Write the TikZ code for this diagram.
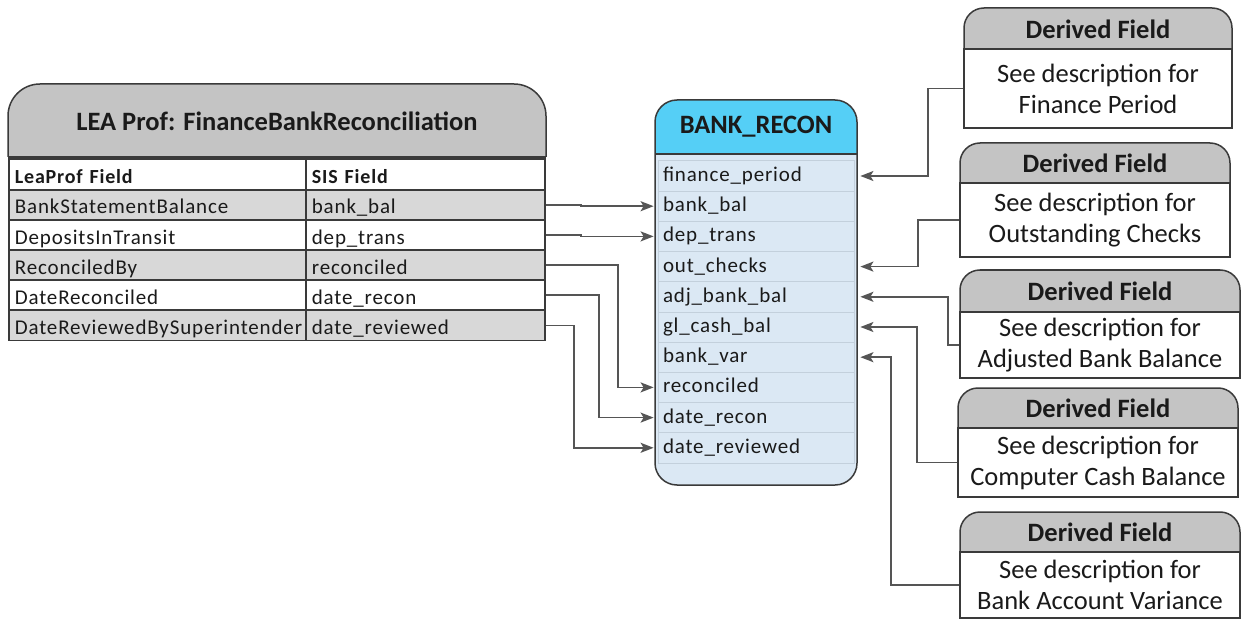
\documentclass[tikz,border=0pt]{standalone}
\usepackage{fontspec}
\setmainfont{Carlito}
\newfontfamily\rowfont[LetterSpace=4]{Carlito}
\usetikzlibrary{arrows.meta,calc}
\definecolor{hdrgray}{HTML}{C4C4C4}
\definecolor{rowgray}{HTML}{D8D8D8}
\definecolor{cyanhdr}{HTML}{55CFF6}
\definecolor{bodyblue}{HTML}{DBE8F4}
\definecolor{rowline}{HTML}{C3D0DC}
\definecolor{edge}{HTML}{3A3A3A}
\definecolor{wire}{HTML}{555555}
\definecolor{ink}{HTML}{1A1A1A}
\tikzset{
  rowtxt/.style={font=\rowfont\fontsize{21}{25}\selectfont, text=ink, text height=15, text depth=4},
  lcell/.style={draw=edge, line width=1.8pt, anchor=west, minimum height=30, text width=285, inner xsep=6, inner ysep=0, align=left, rowtxt, text height=18, text depth=0},
  scell/.style={lcell, text width=227},
  field/.style={draw=rowline, line width=0.8pt, fill=bodyblue, minimum height=30.2, text width=186, inner xsep=5, inner ysep=0, align=left, rowtxt},
  dhead/.style={font=\bfseries\fontsize{26.5}{30}\selectfont, text=ink},
  dbody/.style={draw=edge, line width=1.5pt, fill=white, align=center, font=\fontsize{26.5}{31}\selectfont, text=ink, inner sep=0},
  conn/.style={draw=wire, line width=1.7pt, -{Stealth[length=13pt,width=10pt,inset=3pt]}},
}
\begin{document}
\begin{tikzpicture}[x=1pt,y=-1pt]
\useasboundingbox (0,0) rectangle (1244,620);
\fill[white] (0,0) rectangle (1244,620);

% ---------- left table ----------
\filldraw[fill=hdrgray, draw=edge, line width=1.5pt, rounded corners=32] (8,157) -- (8,84) -- (546,84) -- (546,157);
\draw[edge, line width=1.5pt] (8,157) -- (546,157);
\node[font=\bfseries\fontsize{26.5}{30}\selectfont, text=ink] (title) at (277,121) {LEA Prof: FinanceBankReconciliation};

\node[lcell, fill=white, minimum height=31] (l0) at (8,174.5) {\mbox{\bfseries\fontsize{20}{25}\selectfont LeaProf Field}};
\node[scell, fill=white, minimum height=31] (s0) at (305,174.5) {\mbox{\bfseries\fontsize{20}{25}\selectfont SIS Field}};
\node[lcell, fill=rowgray] (l1) at (8,205) {\mbox{BankStatementBalance}};
\node[scell, fill=rowgray] (s1) at (305,205) {\mbox{bank\_bal}};
\node[lcell, fill=white] (l2) at (8,235) {\mbox{DepositsInTransit}};
\node[scell, fill=white] (s2) at (305,235) {\mbox{dep\_trans}};
\node[lcell, fill=rowgray] (l3) at (8,265) {\mbox{ReconciledBy}};
\node[scell, fill=rowgray] (s3) at (305,265) {\mbox{reconciled}};
\node[lcell, fill=white] (l4) at (8,295) {\mbox{DateReconciled}};
\node[scell, fill=white] (s4) at (305,295) {\mbox{date\_recon}};
\node[lcell, fill=rowgray] (l5) at (8,325.5) {\mbox{DateReviewedBySuperintender}};
\node[scell, fill=rowgray] (s5) at (305,325.5) {\mbox{date\_reviewed}};

% ---------- BANK_RECON ----------
\fill[bodyblue, rounded corners=22] (655,100) rectangle (857,485);
\fill[cyanhdr, rounded corners=22] (655,154) -- (655,100) -- (857,100) -- (857,154);
\draw[edge, line width=1.2pt] (655,154) -- (857,154);
\node[font=\bfseries\fontsize{26.5}{30}\selectfont, text=ink] (brtitle) at (756,127) {BANK\_RECON};
\foreach \nm/\txt [count=\i from 0] in {fp/finance\_period, bb/bank\_bal, dt/dep\_trans, oc/out\_checks, ab/adj\_bank\_bal, gc/gl\_cash\_bal, bv/bank\_var, rc/reconciled, dr/date\_recon, dv/date\_reviewed}{
  \node[field] (f-\nm) at (756,{176+30.2*\i}) {\mbox{\txt}};
}
\draw[edge, line width=1.5pt, rounded corners=22] (655,100) rectangle (857,485);

% ---------- derived boxes ----------
\filldraw[fill=hdrgray, draw=edge, line width=1.5pt, rounded corners=20] (964,49) -- (964,8) -- (1232,8) -- (1232,49);
\node[dhead] (h1) at (1098,29) {Derived Field};
\node[dbody, minimum width=268, minimum height=79] (b1) at (1098,88.5) {See description for\\Finance Period};

\filldraw[fill=hdrgray, draw=edge, line width=1.5pt, rounded corners=20] (960,183) -- (960,143) -- (1230,143) -- (1230,183);
\node[dhead] (h2) at (1095,163) {Derived Field};
\node[dbody, minimum width=270, minimum height=74] (b2) at (1095,220) {See description for\\Outstanding Checks};

\filldraw[fill=hdrgray, draw=edge, line width=1.5pt, rounded corners=20] (960,312) -- (960,270) -- (1240,270) -- (1240,312);
\node[dhead] (h3) at (1100,291) {Derived Field};
\node[dbody, minimum width=280, minimum height=66] (b3) at (1100,345) {See description for\\Adjusted Bank Balance};

\filldraw[fill=hdrgray, draw=edge, line width=1.5pt, rounded corners=20] (958,428) -- (958,388) -- (1238,388) -- (1238,428);
\node[dhead] (h4) at (1098,408) {Derived Field};
\node[dbody, minimum width=280, minimum height=69] (b4) at (1098,462.5) {See description for\\Computer Cash Balance};

\filldraw[fill=hdrgray, draw=edge, line width=1.5pt, rounded corners=20] (960,552) -- (960,512) -- (1240,512) -- (1240,552);
\node[dhead] (h5) at (1100,532) {Derived Field};
\node[dbody, minimum width=280, minimum height=66] (b5) at (1100,585) {See description for\\Bank Account Variance};

% ---------- connectors left ----------
\draw[conn] (s1.east) -- ++(35,0) |- ([xshift=-4pt]f-bb.west);
\draw[conn] (s2.east) -- ++(35,0) |- ([xshift=-4pt]f-dt.west);
\draw[conn] (s3.east) -- ++(72,0) |- ([xshift=-4pt]f-rc.west);
\draw[conn] (s4.east) -- ++(53,0) |- ([xshift=-4pt]f-dr.west);
\draw[conn] (s5.east) -- ++(28,0) |- ([xshift=-4pt]f-dv.west);

% ---------- connectors right ----------
\draw[conn] (b1.west) -- ++(-35,0) |- ([xshift=6pt]f-fp.east);
\draw[conn] (b2.west) -- ++(-41,0) |- ([xshift=6pt]f-oc.east);
\draw[conn] (b3.west) -- ++(-11,0) |- ([xshift=6pt]f-ab.east);
\draw[conn] (b4.west) -- ++(-40,0) |- ([xshift=6pt]f-gc.east);
\draw[conn] (b5.west) -- ++(-68,0) |- ([xshift=6pt]f-bv.east);
\end{tikzpicture}
\end{document}
